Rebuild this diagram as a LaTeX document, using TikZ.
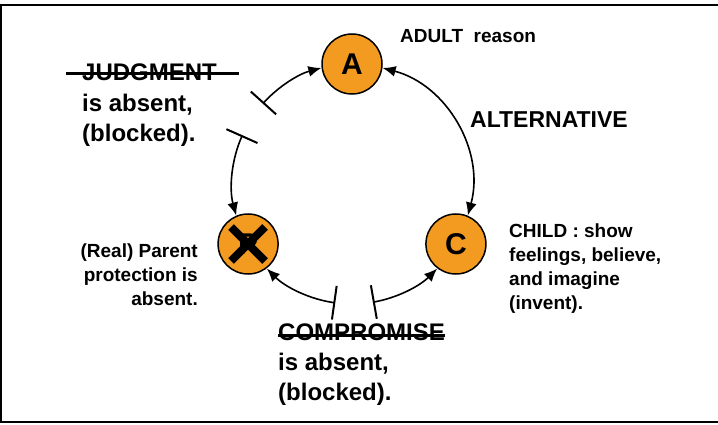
\documentclass[tikz,border=0pt]{standalone}
\usepackage{fontspec}
\setmainfont{Liberation Sans}
\usepackage{xcolor}
\usepackage{tikz}
\usetikzlibrary{arrows.meta}
\definecolor{stateorange}{RGB}{243,154,33}
\tikzset{state/.style={circle, draw, line width=1.5pt, fill=stateorange, minimum size=60pt, inner sep=0pt, font=\fontsize{30}{36}\selectfont\bfseries}}
\tikzset{blocked/.style={{Bar[width=34pt,line width=2pt]}-{Latex[length=13pt,width=11pt]}, line width=1.6pt, looseness=0.87}}
\tikzset{open/.style={{Latex[length=13pt,width=11pt]}-{Latex[length=13pt,width=11pt]}, line width=1.6pt}}
\tikzset{big/.style={inner sep=0pt, font=\fontsize{24}{30}\selectfont\bfseries}}
\tikzset{small/.style={inner sep=0pt, font=\fontsize{19}{24}\selectfont\bfseries}}
\tikzset{strike/.style={line width=3pt}}

\begin{document}
\begin{tikzpicture}[x=1pt, y=1pt]
    \useasboundingbox (0,0) rectangle (718,424);
    \draw [line width=2pt] (718,419) -- (1,419) -- (1,2) -- (718,2);

    \coordinate (O) at (352,240);
    \node[state] at ([shift={(90:120)}]O) (A){A};
    \node[state] at ([shift={(210:120)}]O) (P){P};
    \node[state] at ([shift={(330:120)}]O) (C){C};
    \draw [line width=8pt] ([shift={(-17,17)}]P.center) -- ([shift={(17,-17)}]P.center)
        ([shift={(17,17)}]P.center) -- ([shift={(-17,-17)}]P.center);

    % points where the arcs meet the circles
    \coordinate (a1) at ([shift={(75.2:120)}]O);
    \coordinate (a2) at ([shift={(104.8:120)}]O);
    \coordinate (p1) at ([shift={(195.2:120)}]O);
    \coordinate (p2) at ([shift={(224.8:120)}]O);
    \coordinate (c1) at ([shift={(344.8:120)}]O);
    \coordinate (c2) at ([shift={(315.2:120)}]O);

    % blocked ends
    \coordinate (j1) at ([shift={(138:120)}]O);
    \coordinate (j2) at ([shift={(156:120)}]O);
    \coordinate (b1) at ([shift={(262:120)}]O);
    \coordinate (b2) at ([shift={(280:120)}]O);

    \draw [blocked] (j1) to[bend left=16.6] (a2);
    \draw [blocked] (j2) to[bend right=19.6] (p1);
    \draw [blocked] (b1) to[bend left=18.6] (p2);
    \draw [blocked] (b2) to[bend right=17.6] (c2);
    \draw [open] (a1) to[bend left=45.2] (c1);

    \node[small, anchor=base west] at (400,381) (adult){ADULT\ \ reason};
    \node[big, anchor=base west, font=\fontsize{23}{28}\selectfont\bfseries] at (470,297) (alt){ALTERNATIVE};
    \node[small, anchor=north west, align=left] at (509,200) (child){CHILD : show\\feelings, believe,\\and imagine\\(invent).};
    \node[small, anchor=north east, align=right] at (198,180) (parent){(Real) Parent\\protection is\\absent.};

    \node[big, anchor=base west] at (82,343) (judg){JUDGMENT};
    \node[big, anchor=north west, align=left] at ([yshift=-12pt]judg.south west) (judgnote){is absent,\\(blocked).};
    \draw [strike] ([shift={(-16pt,7pt)}]judg.base west) -- ([shift={(22pt,7pt)}]judg.base east);

    \node[big, anchor=base west] at (278,84) (comp){COMPROMISE};
    \node[big, anchor=north west, align=left] at ([yshift=-12pt]comp.south west) (compnote){is absent,\\(blocked).};
    \draw [strike] ([yshift=5pt]comp.base west) -- ([yshift=5pt]comp.base east);
\end{tikzpicture}
\end{document}
